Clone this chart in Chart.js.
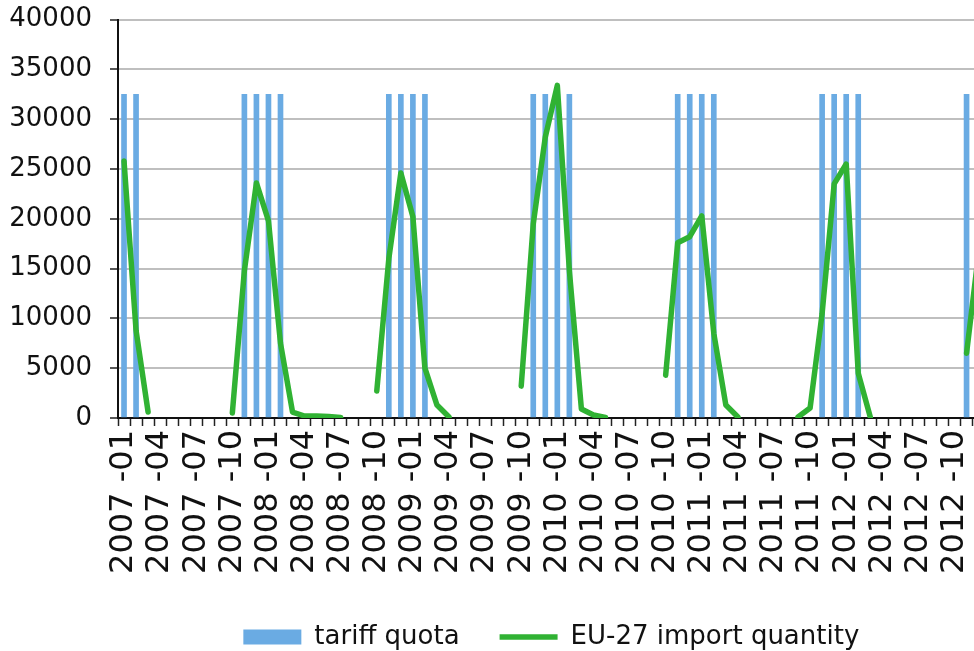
<!DOCTYPE html>
<html>
<head>
<meta charset="utf-8">
<script src="https://cdn.jsdelivr.net/npm/chart.js@4/dist/chart.umd.min.js"></script>
<style>
  html, body { margin: 0; padding: 0; background: #fff; overflow: hidden; }
  #wrap { width: 974px; height: 651px; overflow: hidden; position: relative; }
  #chart { position: absolute; left: 0; top: -14px; }
</style>
</head>
<body>
<div id="wrap">
  <canvas id="chart" width="1021" height="676"></canvas>
</div>
<script>
const months = [
  "2007 -01", "2007 -02", "2007 -03", "2007 -04", "2007 -05", "2007 -06", "2007 -07", "2007 -08", "2007 -09", "2007 -10", "2007 -11", "2007 -12",
  "2008 -01", "2008 -02", "2008 -03", "2008 -04", "2008 -05", "2008 -06", "2008 -07", "2008 -08", "2008 -09", "2008 -10", "2008 -11", "2008 -12",
  "2009 -01", "2009 -02", "2009 -03", "2009 -04", "2009 -05", "2009 -06", "2009 -07", "2009 -08", "2009 -09", "2009 -10", "2009 -11", "2009 -12",
  "2010 -01", "2010 -02", "2010 -03", "2010 -04", "2010 -05", "2010 -06", "2010 -07", "2010 -08", "2010 -09", "2010 -10", "2010 -11", "2010 -12",
  "2011 -01", "2011 -02", "2011 -03", "2011 -04", "2011 -05", "2011 -06", "2011 -07", "2011 -08", "2011 -09", "2011 -10", "2011 -11", "2011 -12",
  "2012 -01", "2012 -02", "2012 -03", "2012 -04", "2012 -05", "2012 -06", "2012 -07", "2012 -08", "2012 -09", "2012 -10", "2012 -11", "2012 -12"
];

// tariff quota (only open in Nov - Feb)
const tariffQuota = [
  32500, 32500, null, null, null, null, null, null, null, null, 32500, 32500,
  32500, 32500, null, null, null, null, null, null, null, null, 32500, 32500,
  32500, 32500, null, null, null, null, null, null, null, null, 32500, 32500,
  32500, 32500, null, null, null, null, null, null, null, null, 32500, 32500,
  32500, 32500, null, null, null, null, null, null, null, null, 32500, 32500,
  32500, 32500, null, null, null, null, null, null, null, null, 32500, 32500
];

const importQty = [
  25800, 8800, 600, null, null, null, null, null, null, 500, 14800, 23600,
  19800, 7500, 600, 200, 200, 150, 50, null, null, 2700, 16000, 24600,
  20200, 5000, 1300, 100, null, null, null, null, null, 3200, 19500, 28200,
  33400, 14800, 900, 300, 50, null, null, null, null, 4300, 17600, 18200,
  20300, 8500, 1300, 100, null, null, null, null, 100, 1000, 10500, 23500,
  25500, 4500, 100, null, null, null, null, null, null, null, 6500, 16600
];

const yTicks = [0, 5000, 10000, 15000, 20000, 25000, 30000, 35000, 40000];

const FONT = "'DejaVu Sans', Verdana, sans-serif";
const blue = "#6aabe3";
const green = "#30b233";

new Chart(document.getElementById("chart"), {
  type: "bar",
  data: {
    labels: months,
    datasets: [
      {
        label: "tariff quota",
        data: tariffQuota,
        backgroundColor: blue,
        borderWidth: 0,
        barThickness: 5,
        pointStyle: "rect",
        order: 2,
      },
      {
        type: "line",
        label: "EU-27 import quantity",
        data: importQty,
        borderColor: green,
        backgroundColor: green,
        borderWidth: 5.5,
        pointRadius: 0,
        tension: 0,
        spanGaps: false,
        borderJoinStyle: "round",
        borderCapStyle: "round",
        pointStyle: "line",
        order: 1,
      },
    ],
  },
  options: {
    responsive: false,
    animation: false,
    devicePixelRatio: 1,
    layout: { padding: { top: 4, right: 0, bottom: 2, left: 0 } },
    plugins: {
      tooltip: { enabled: false },
      legend: {
        position: "bottom",
        fullSize: false,
        labels: {
          usePointStyle: true,
          pointStyleWidth: 58,
          boxHeight: 15,
          padding: 40,
          color: "#111",
          font: { family: FONT, size: 26 },
          sort: (a, b) => a.datasetIndex - b.datasetIndex,
        },
      },
    },
    scales: {
      x: {
        grid: {
          display: true,
          drawOnChartArea: false,
          offset: true,
          tickLength: 8,
          tickColor: "#222",
          tickWidth: 1.5,
        },
        border: { color: "#111", width: 2 },
        ticks: {
          autoSkip: false,
          maxRotation: 90,
          minRotation: 90,
          padding: 4,
          color: "#111",
          font: { family: FONT, size: 32 },
          callback: function (value, index) {
            return index % 3 === 0 ? this.getLabelForValue(value) : "";
          },
        },
        afterFit: (scale) => {
          scale.height = 166;
        },
      },
      y: {
        min: yTicks[0],
        max: yTicks[yTicks.length - 1],
        afterBuildTicks: (scale) => {
          scale.ticks = yTicks.map((v) => ({ value: v }));
        },
        grid: {
          color: (ctx) => (ctx.tick && ctx.tick.value === 0 ? "rgba(0,0,0,0)" : "#bfbfbf"),
          lineWidth: 2,
          tickLength: 8,
          tickColor: "#222",
          tickWidth: 1.5,
        },
        border: { color: "#111", width: 2 },
        ticks: {
          padding: 18,
          color: "#111",
          font: { family: FONT, size: 26 },
          callback: (v) => String(v),
        },
        afterFit: (scale) => {
          scale.width = 118;
        },
      },
    },
  },
});
</script>
</body>
</html>
